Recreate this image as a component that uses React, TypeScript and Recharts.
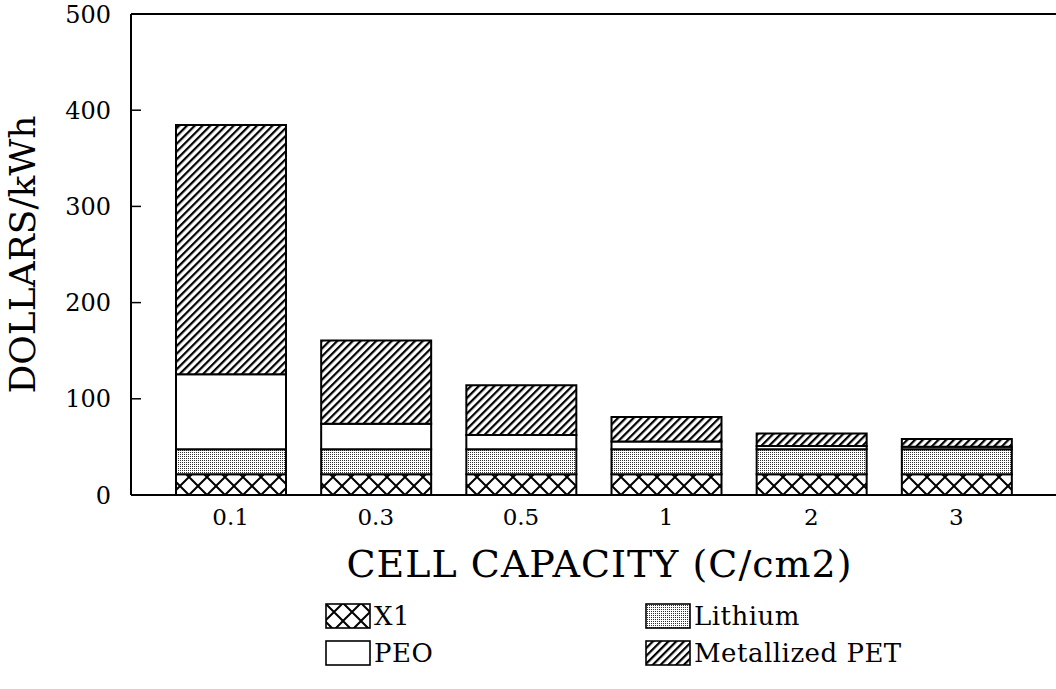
import { Bar, BarChart, Label, ReferenceLine, XAxis, YAxis } from "recharts";

const categories = ["0.1", "0.3", "0.5", "1", "2", "3"];
const x1Cost = [21.5, 21.5, 21.5, 21.5, 21.5, 21.5];
const lithiumCost = [26, 26, 26, 26, 26, 26];
const peoCost = [78, 26.5, 15, 8, 3.5, 2.7];
const petCost = [259, 86.5, 51.5, 25.5, 13, 8];
const yTicks = [0, 100, 200, 300, 400, 500];

const series = [
  { key: "x1", name: "X1", fill: "cross" },
  { key: "lithium", name: "Lithium", fill: "dots" },
  { key: "peo", name: "PEO", fill: "plain" },
  { key: "pet", name: "Metallized PET", fill: "hatch" },
];

const data = categories.map((c, i) => ({
  cap: c,
  x1: x1Cost[i],
  lithium: lithiumCost[i],
  peo: peoCost[i],
  pet: petCost[i],
}));

const font = "'DejaVu Serif', serif";

function Patterns({ prefix }: { prefix: string }) {
  return (
    <defs>
      <pattern id={`${prefix}cross`} patternUnits="userSpaceOnUse" width={18} height={18}>
        <rect width={18} height={18} fill="#fff" />
        <path d="M0,0 L18,18 M18,0 L0,18 M-2,16 L2,20 M16,-2 L20,2 M-2,2 L2,-2 M16,20 L20,16" stroke="#000" strokeWidth={2} />
      </pattern>
      <pattern id={`${prefix}dots`} patternUnits="userSpaceOnUse" width={2} height={2}>
        <rect width={2} height={2} fill="#fff" />
        <rect width={1} height={1} fill="#333" />
      </pattern>
      <pattern id={`${prefix}plain`} patternUnits="userSpaceOnUse" width={4} height={4}>
        <rect width={4} height={4} fill="#fff" />
      </pattern>
      <pattern id={`${prefix}hatch`} patternUnits="userSpaceOnUse" width={5.5} height={5.5} patternTransform="rotate(45)">
        <rect width={5.5} height={5.5} fill="#fff" />
        <rect width={2.2} height={5.5} fill="#000" />
      </pattern>
    </defs>
  );
}

function Swatch({ fill }: { fill: string }) {
  return (
    <svg width={46} height={26} style={{ display: "block" }}>
      <Patterns prefix={`lg-${fill}-`} />
      <rect x={1} y={1} width={44} height={24} fill={`url(#lg-${fill}-${fill})`} stroke="#000" strokeWidth={1.6} />
    </svg>
  );
}

function LegendItem({ s, left, top }: { s: (typeof series)[number]; left: number; top: number }) {
  return (
    <div style={{ position: "absolute", left, top, display: "flex", alignItems: "flex-end" }}>
      <Swatch fill={s.fill} />
      <span style={{ fontFamily: font, fontSize: 26, lineHeight: "26px", marginLeft: 3, color: "#000", letterSpacing: 0.5 }}>{s.name}</span>
    </div>
  );
}

export default function App() {
  return (
    <div style={{ position: "absolute", left: 0, top: 0, width: 1056, height: 689, background: "#fff", overflow: "hidden" }}>
      <BarChart width={1056} height={689} data={data} margin={{ top: 14, right: 0, bottom: 94, left: 0 }}>
        <Patterns prefix="ch-" />
        <XAxis
          dataKey="cap"
          height={100}
          padding={{ left: 27, right: 27 }}
          tickLine={false}
          tickSize={0}
          tickMargin={14}
          axisLine={{ stroke: "#000", strokeWidth: 2 }}
          tick={{ fill: "#000", fontSize: 23, fontFamily: font }}
        >
          <Label value="CELL CAPACITY (C/cm2)" position="insideBottom" offset={18} dx={6} style={{ fill: "#000", fontSize: 38, fontFamily: font, letterSpacing: 1 }} />
        </XAxis>
        <YAxis
          width={131}
          domain={[0, 500]}
          ticks={yTicks}
          interval={0}
          tickSize={-10}
          tickMargin={30}
          axisLine={{ stroke: "#000", strokeWidth: 2 }}
          tickLine={{ stroke: "#000", strokeWidth: 1.5 }}
          tick={{ fill: "#000", fontSize: 24, fontFamily: font }}
        >
          <Label value="DOLLARS/kWh" angle={-90} position="insideLeft" offset={22} style={{ fill: "#000", fontSize: 36, fontFamily: font, textAnchor: "middle" }} />
        </YAxis>
        <ReferenceLine y={500} stroke="#000" strokeWidth={2} />
        {series.map((s) => (
          <Bar
            key={s.key}
            dataKey={s.key}
            name={s.name}
            stackId="cost"
            barSize={110}
            fill={`url(#ch-${s.fill})`}
            stroke="#000"
            strokeWidth={2}
            isAnimationActive={false}
          />
        ))}
      </BarChart>
      <LegendItem s={series[0]} left={325} top={603} />
      <LegendItem s={series[1]} left={645} top={603} />
      <LegendItem s={series[2]} left={325} top={640} />
      <LegendItem s={series[3]} left={645} top={640} />
    </div>
  );
}
